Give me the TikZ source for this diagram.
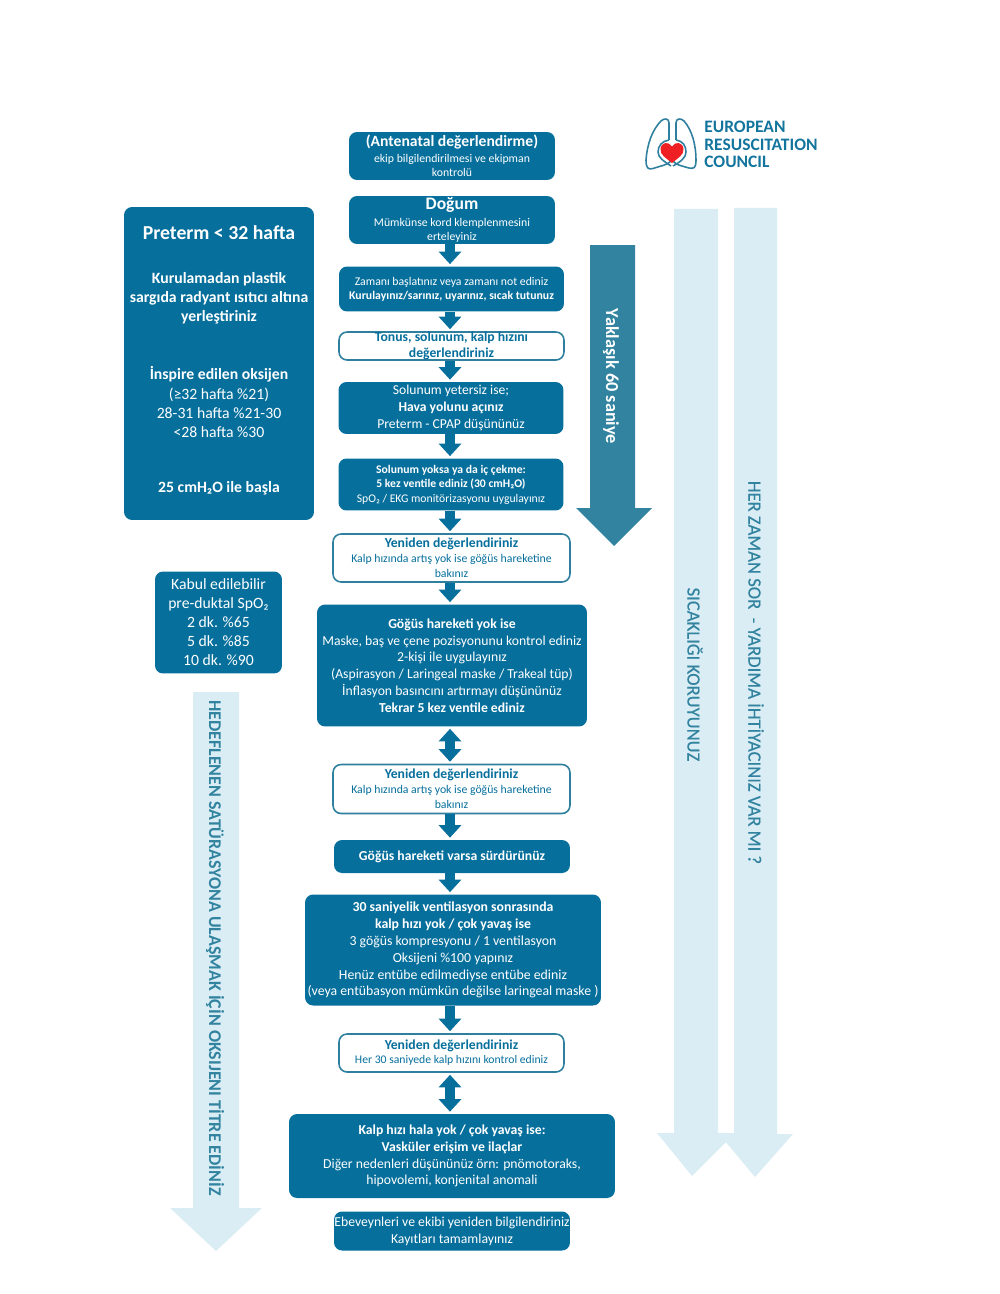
\documentclass[tikz,border=0pt]{standalone}
\usepackage{fontspec}
\setmainfont{Carlito}
\newfontfamily\semibold[FakeBold=0.35]{Carlito}
\usetikzlibrary{arrows.meta}
\definecolor{ercblue}{HTML}{066F9C}
\definecolor{ercedge}{HTML}{2F7F9F}
\definecolor{erclight}{HTML}{DAEDF4}
\definecolor{ercmid}{HTML}{31839F}
\definecolor{ercred}{HTML}{EE2024}
\newcommand{\fl}[2]{\fontsize{#1}{#2\dimexpr#1pt\relax}\selectfont}
\newcommand{\fs}[1]{\fl{#1}{1.2}}
\tikzset{
  flowbox/.style={fill=ercblue, text=white, rounded corners=0.16cm, inner sep=0pt, align=center},
  whitebox/.style={draw=ercedge, line width=0.9pt, fill=white, text=ercblue, rounded corners=0.16cm, inner sep=0pt, align=center},
  flowarrow/.style={draw=ercblue, line width=0.2cm, shorten >=0.04cm, -{Triangle[length=0.25cm,width=0.44cm]}},
  bothwayarrow/.style={draw=ercblue, line width=0.2cm, shorten >=0.04cm, shorten <=0.04cm, {Triangle[length=0.25cm,width=0.44cm]}-{Triangle[length=0.25cm,width=0.44cm]}},
  sidelabel/.style={rotate=-90, text=ercmid, inner sep=0pt, font=\fs{10.6}\semibold}
}
\begin{document}
\begin{tikzpicture}[x=0.02cm, y=-0.02cm]
\useasboundingbox (0,0) rectangle (1000,1294);

% big side arrows
\fill[erclight] (674,209) -- (718,209) -- (718,1133) -- (735,1133) -- (692,1176) -- (657,1133) -- (674,1133) -- cycle;
\fill[erclight] (734,208) -- (777,208) -- (777,1134) -- (793,1134) -- (755,1177) -- (719,1134) -- (734,1134) -- cycle;
\fill[erclight] (193,692) -- (239,692) -- (239,1208) -- (262,1208) -- (216,1251) -- (170,1208) -- (193,1208) -- cycle;
\fill[ercmid] (590,245) -- (635,245) -- (635,508) -- (652,508) -- (614,546) -- (576,508) -- (590,508) -- cycle;

\node[sidelabel, text=white, font=\fs{10.4}\bfseries] (yaklasik) at (611,376.5) {Yaklaşık 60 saniye};
\node[sidelabel] (sicaklik) at (695,674.5) {SICAKLIĞI KORUYUNUZ};
\node[sidelabel] (yardim) at (756,672.5) {HER ZAMAN SOR\ \ - YARDIMA İHTİYACINIZ VAR MI ?};
\node[sidelabel, font=\fs{10.2}\bfseries] (hedef) at (215,948) {HEDEFLENEN SATÜRASYONA ULAŞMAK İÇİN OKSIJENI TİTRE EDİNİZ};

% middle column
\coordinate (flowx) at (450,0);
\node[flowbox, minimum width=4.12cm, minimum height=0.96cm, font=\fs{6.7}] (ante) at (452,156)
  {{\fs{8.9}\bfseries (Antenatal değerlendirme)}\\[0.8pt]ekip bilgilendirilmesi ve ekipman\\kontrolü};
\node[flowbox, minimum width=4.12cm, minimum height=0.96cm, font=\fs{6.7}] (dogum) at (452,220)
  {{\fs{10}\bfseries Doğum}\\[1.2pt]Mümkünse kord klemplenmesini\\erteleyiniz};
\node[flowbox, minimum width=4.5cm, minimum height=0.9cm, font=\fs{6.7}] (zaman) at (451.5,289)
  {Zamanı başlatınız veya zamanı not ediniz\\\textbf{Kurulayınız/sarınız, uyarınız, sıcak tutunuz}};
\node[whitebox, minimum width=4.5cm, minimum height=0.56cm, font=\fl{7.8}{1.16}\bfseries] (tonus) at (451.5,346)
  {Tonus, solunum, kalp hızını\\değerlendiriniz};
\node[flowbox, minimum width=4.5cm, minimum height=1.04cm, font=\fl{7.75}{1.22}] (yetersiz) at (451,408)
  {Solunum yetersiz ise;\\\textbf{Hava yolunu açınız}\\Preterm - CPAP düşününüz};
\node[flowbox, minimum width=4.5cm, minimum height=1.04cm, font=\fl{6.65}{1.24}] (yoksa) at (451,484.5)
  {\textbf{Solunum yoksa ya da iç çekme:}\\\textbf{5 kez ventile ediniz (30 cmH₂O)}\\SpO₂ / EKG monitörizasyonu uygulayınız};
\node[whitebox, minimum width=4.74cm, minimum height=0.96cm, font=\fl{6.7}{1.26}] (yeniden) at (451.5,558)
  {{\fs{7.8}\bfseries Yeniden değerlendiriniz}\\Kalp hızında artış yok ise göğüs hareketine\\bakınız};
\node[flowbox, minimum width=5.4cm, minimum height=2.44cm, font=\fl{7.8}{1.225}] (gogus) at (452,665.5)
  {\textbf{Göğüs hareketi yok ise}\\Maske, baş ve çene pozisyonunu kontrol ediniz\\2-kişi ile uygulayınız\\(Aspirasyon / Laringeal maske / Trakeal tüp)\\İnflasyon basıncını artırmayı düşününüz\\\textbf{Tekrar 5 kez ventile ediniz}};
\node[whitebox, minimum width=4.74cm, minimum height=0.98cm, font=\fl{6.7}{1.26}] (yenidenb) at (451.5,789)
  {{\fs{7.8}\bfseries Yeniden değerlendiriniz}\\Kalp hızında artış yok ise göğüs hareketine\\bakınız};
\node[flowbox, minimum width=4.72cm, minimum height=0.66cm, font=\fs{7.8}\bfseries] (varsa) at (452,856.5)
  {Göğüs hareketi varsa sürdürünüz};
\node[flowbox, minimum width=5.92cm, minimum height=2.22cm, font=\fl{7.85}{1.225}] (otuz) at (453,950)
  {\textbf{30 saniyelik ventilasyon sonrasında}\\\textbf{kalp hızı yok / çok yavaş ise}\\3 göğüs kompresyonu / 1 ventilasyon\\Oksijeni \%100 yapınız\\Henüz entübe edilmediyse entübe ediniz\\(veya entübasyon mümkün değilse laringeal maske )};
\node[whitebox, minimum width=4.5cm, minimum height=0.76cm, font=\fs{6.65}] (yenidenc) at (451.5,1053)
  {{\fs{7.8}\bfseries Yeniden değerlendiriniz}\\Her 30 saniyede kalp hızını kontrol ediniz};
\node[flowbox, minimum width=6.52cm, minimum height=1.68cm, font=\fl{7.8}{1.225}] (ilac) at (452,1156)
  {\textbf{Kalp hızı hala yok / çok yavaş ise:}\\\textbf{Vasküler erişim ve ilaçlar}\\Diğer nedenleri düşününüz örn: pnömotoraks,\\hipovolemi, konjenital anomali};
\node[flowbox, minimum width=4.72cm, minimum height=0.78cm, font=\fl{7.8}{1.225}] (ebeveyn) at (452,1231)
  {Ebeveynleri ve ekibi yeniden bilgilendiriniz\\Kayıtları tamamlayınız};

\draw[flowarrow] (dogum.south -| flowx) -- (zaman.north -| flowx);
\draw[flowarrow] (zaman.south -| flowx) -- (tonus.north -| flowx);
\draw[flowarrow] (tonus.south -| flowx) -- (yetersiz.north -| flowx);
\draw[flowarrow] (yetersiz.south -| flowx) -- (yoksa.north -| flowx);
\draw[flowarrow] (yoksa.south -| flowx) -- (yeniden.north -| flowx);
\draw[flowarrow] (yeniden.south -| flowx) -- (gogus.north -| flowx);
\draw[bothwayarrow] (gogus.south -| flowx) -- (yenidenb.north -| flowx);
\draw[flowarrow] (yenidenb.south -| flowx) -- (varsa.north -| flowx);
\draw[flowarrow] (varsa.south -| flowx) -- (otuz.north -| flowx);
\draw[flowarrow] (otuz.south -| flowx) -- (yenidenc.north -| flowx);
\draw[bothwayarrow] (yenidenc.south -| flowx) -- (ilac.north -| flowx);

% left column
\node[flowbox, minimum width=3.8cm, minimum height=6.26cm] (preterm) at (219,363.5) {};
\node[text=white, font=\fs{11.25}\bfseries, inner sep=0pt] (pretermt) at (219,232.5) {Preterm < 32 hafta};
\node[text=white, font=\fl{8.95}{1.21}\bfseries, inner sep=0pt, align=center] (plastik) at (219,298)
  {Kurulamadan plastik\\sargıda radyant ısıtıcı altına\\yerleştiriniz};
\node[text=white, font=\fl{8.95}{1.21}, inner sep=0pt, align=center] (oksijen) at (219,402)
  {\textbf{İnspire edilen oksijen}\\(≥32 hafta \%21)\\28-31 hafta \%21-30\\<28 hafta \%30};
\node[text=white, font=\fs{8.95}\bfseries, inner sep=0pt] (basinc) at (219,488.5) {25 cmH₂O ile başla};
\node[flowbox, minimum width=2.54cm, minimum height=2.04cm, font=\fl{8.93}{1.21}] (kabul) at (218.5,622.5)
  {Kabul edilebilir\\pre-duktal SpO₂\\2 dk. \%65\\5 dk. \%85\\10 dk. \%90};

% logo
\draw[ercedge, line width=0.9pt, line join=round] (669,140) -- (669,123) .. controls (669,118) and (664,118) .. (661,121) .. controls (652,130) and (647,145) .. (646,160) .. controls (646,168) and (648,170) .. (653,168.5) .. controls (660,166) and (668,165) .. (671,161);
\draw[ercedge, line width=0.9pt, line join=round] (676,140) -- (676,123) .. controls (676,118) and (681,118) .. (684,121) .. controls (692,130) and (696,145) .. (696,160) .. controls (696,168) and (694,169) .. (689,168) .. controls (682,166) and (676,165) .. (673,161);
\draw[ercedge, line width=0.9pt] (669,140) .. controls (662,141) and (658,146) .. (658,152) .. controls (658,158) and (665,162) .. (671,166);
\draw[ercedge, line width=0.9pt] (676,140) .. controls (683,141) and (686,146) .. (686,152) .. controls (686,158) and (680,162) .. (673,166);
\fill[ercred] (672,163) .. controls (666,158) and (660,155) .. (660.5,149) .. controls (661,142) and (669,141) .. (672,146.5) .. controls (675,141) and (683,142) .. (683.5,149) .. controls (684,155) and (678,158) .. (672,163) -- cycle;
\node[text=ercblue!70!ercmid, font=\fl{9.95}{1.0}\bfseries, inner sep=0pt, align=left, anchor=west] (erc) at (704,144.5) {EUROPEAN\\RESUSCITATION\\COUNCIL};
\end{tikzpicture}
\end{document}
